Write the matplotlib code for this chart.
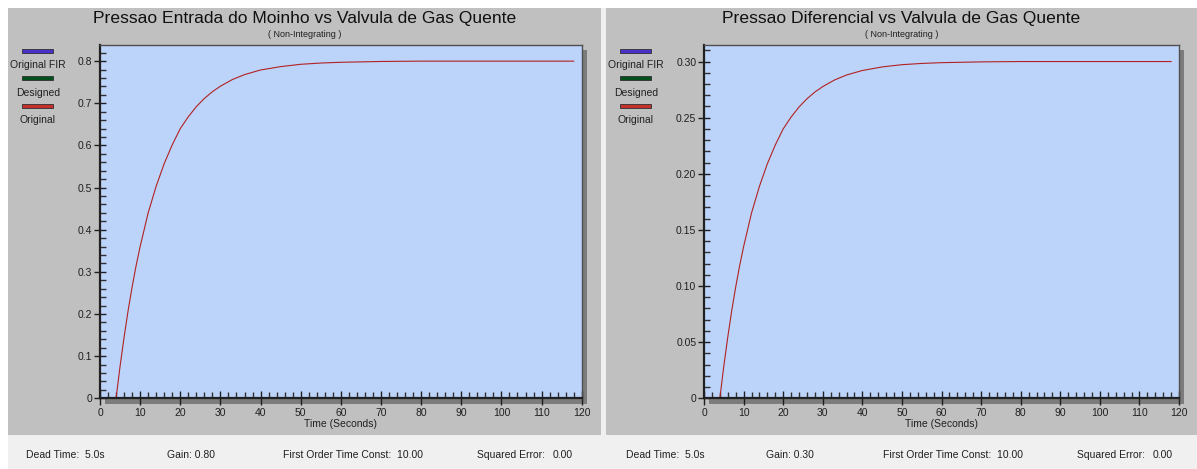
import matplotlib
matplotlib.use("Agg")
import matplotlib.pyplot as plt
from matplotlib.patches import Rectangle
from matplotlib.ticker import MultipleLocator

plt.rcParams['font.family'] = ['Liberation Sans', 'DejaVu Sans']

# ---------------- data ----------------
time_s = [4, 5, 6, 7, 8, 9, 10, 12, 14, 16, 18, 20, 22, 24, 26, 28, 30, 33, 36,
          40, 45, 50, 55, 60, 70, 80, 90, 100, 110, 118]
pressao_entrada = [0.0, 0.076, 0.145, 0.208, 0.264, 0.315, 0.36, 0.44, 0.5035, 0.557,
                   0.6015, 0.64, 0.668, 0.692, 0.7115, 0.7275, 0.7405, 0.7565, 0.768,
                   0.779, 0.787, 0.7925, 0.7955, 0.7973, 0.7992, 0.80, 0.80, 0.80, 0.80, 0.80]
pressao_diferencial = [0.0, 0.0285, 0.0544, 0.078, 0.099, 0.118, 0.135, 0.165, 0.1888, 0.2089,
                       0.2256, 0.240, 0.2505, 0.2595, 0.2668, 0.2728, 0.2777, 0.2836, 0.2880,
                       0.2920, 0.2952, 0.2972, 0.2983, 0.2990, 0.2997, 0.30, 0.30, 0.30, 0.30, 0.30]

titles = ["Pressao Entrada do Moinho vs Valvula de Gas Quente",
          "Pressao Diferencial vs Valvula de Gas Quente"]
subtitle = "( Non-Integrating )"
xlabel = "Time (Seconds)"
legend_labels = ["Original FIR", "Designed", "Original"]
legend_colors = ["#4a2fc8", "#00501c", "#c4302a"]
x_ticks = [0, 10, 20, 30, 40, 50, 60, 70, 80, 90, 100, 110, 120]
y_ticks_left = [0, 0.1, 0.2, 0.3, 0.4, 0.5, 0.6, 0.7, 0.8]
y_labels_left = ["0", "0.1", "0.2", "0.3", "0.4", "0.5", "0.6", "0.7", "0.8"]
y_ticks_right = [0, 0.05, 0.10, 0.15, 0.20, 0.25, 0.30]
y_labels_right = ["0", "0.05", "0.10", "0.15", "0.20", "0.25", "0.30"]
status_left = [("Dead Time:  5.0s", 26), ("Gain: 0.80", 167),
               ("First Order Time Const:  10.00", 283), ("Squared Error:", 477), ("0.00", 553)]
status_right = [("Dead Time:  5.0s", 626), ("Gain: 0.30", 766),
                ("First Order Time Const:  10.00", 883), ("Squared Error:", 1077), ("0.00", 1153)]

# ---------------- figure ----------------
W, H = 1197, 469
fig = plt.figure(figsize=(W / 100, H / 100), dpi=100)
fig.patch.set_facecolor("white")


def fx(x):
    return x / W


def fy(y):
    return 1 - y / H


def rect(x0, y0, x1, y1, color, z):
    fig.add_artist(Rectangle((fx(x0), fy(y1)), fx(x1) - fx(x0), fy(y0) - fy(y1),
                             transform=fig.transFigure, facecolor=color,
                             edgecolor="none", zorder=z))


rect(8, 8, W, H, "#f0f0f0", -5)
panels = [(8, 601), (606, W)]
for p0, p1 in panels:
    rect(p0, 8, p1, 435, "#c0c0c0", -4)

axes_px = [(100, 44.7, 581.7, 398.3), (704, 44.7, 1179, 398.3)]
series = [pressao_entrada, pressao_diferencial]
ylims = [0.839, 0.315]
yticks = [(y_ticks_left, y_labels_left, 0.02), (y_ticks_right, y_labels_right, 0.01)]
statuses = [status_left, status_right]

for i in range(2):
    x0, y0, x1, y1 = axes_px[i]
    # shadow
    rect(x0 + 5, y0 + 5, x1 + 5, y1 + 6, "#7c7c7c", -3)
    ax = fig.add_axes([fx(x0), fy(y1), fx(x1) - fx(x0), fy(y0) - fy(y1)])
    ax.set_facecolor("#bcd3fa")
    ax.plot(time_s, series[i], color="#b22222", linewidth=0.8)
    ax.set_xlim(0, 120)
    ax.set_ylim(0, ylims[i])
    ax.set_xticks(x_ticks)
    ax.set_xticklabels([str(v) for v in x_ticks])
    ax.xaxis.set_minor_locator(MultipleLocator(2))
    yt, yl, ym = yticks[i]
    ax.set_yticks(yt)
    ax.set_yticklabels(yl)
    ax.yaxis.set_minor_locator(MultipleLocator(ym))
    ax.tick_params(axis="x", which="major", direction="inout", length=10, width=1,
                   color="#202020", labelsize=7.5, labelcolor="#202020", pad=2)
    ax.tick_params(axis="x", which="minor", direction="in", length=4, width=1, color="#303030")
    ax.tick_params(axis="y", which="major", direction="inout", length=9, width=1,
                   color="#202020", labelsize=7.5, labelcolor="#202020", pad=1)
    ax.tick_params(axis="y", which="minor", direction="in", length=4, width=1, color="#303030")
    for s in ["left", "bottom"]:
        ax.spines[s].set_linewidth(1.6)
        ax.spines[s].set_color("#202020")
    for s in ["top", "right"]:
        ax.spines[s].set_linewidth(1.0)
        ax.spines[s].set_color("#505050")
    ax.set_xlabel(xlabel, fontsize=7.5, color="#202020", labelpad=1)

    p0, p1 = panels[i]
    cx = (p0 + p1) / 2
    fig.text(fx(cx), fy(18), titles[i], ha="center", va="center", fontsize=12.6, color="#101010")
    fig.text(fx(cx), fy(34.5), subtitle, ha="center", va="center", fontsize=6.5, color="#202020")

    # legend
    for j, (lab, col) in enumerate(zip(legend_labels, legend_colors)):
        ly = 51 + j * 27.5
        fig.add_artist(Rectangle((fx(p0 + 14), fy(ly + 2)), fx(31), 4 / H,
                                 transform=fig.transFigure, facecolor=col,
                                 edgecolor="#303030", linewidth=0.6, zorder=3))
        fig.text(fx(p0 + 30), fy(ly + 14.3), lab, ha="center", va="center",
                 fontsize=7.5, color="#202020")

    for txt, xs in statuses[i]:
        fig.text(fx(xs), fy(455), txt, ha="left", va="center", fontsize=7.5, color="#202020")

fig.savefig("out.png", dpi=100)
